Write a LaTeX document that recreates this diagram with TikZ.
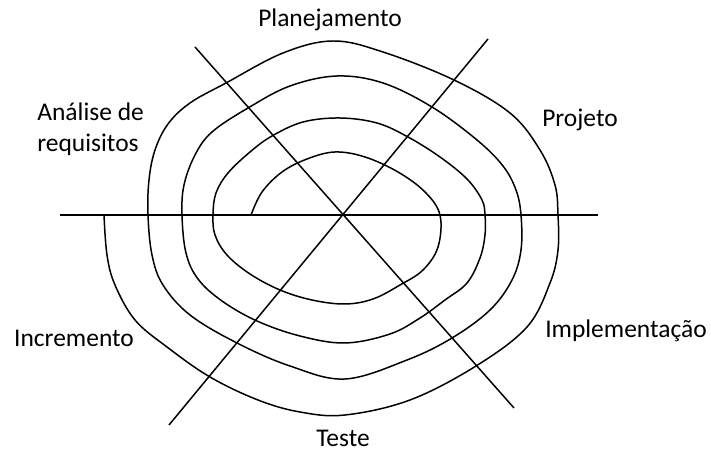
\documentclass[tikz,border=0pt]{standalone}
\usepackage{fontspec}
\setmainfont{Carlito}
\usepackage{tikz}
\usetikzlibrary{positioning}
\definecolor{InkBlack}{HTML}{000000}

\begin{document}
\begin{tikzpicture}[
  x=0.02cm, y=-0.02cm,
  axis/.style={line width=0.85pt, color=InkBlack},
  spiral/.style={line width=0.85pt, color=InkBlack, line join=round},
  lbl/.style={font=\fontsize{14.5}{17.4}\selectfont, text=InkBlack, inner sep=0pt, anchor=base}
]
\useasboundingbox (0,0) rectangle (711,452);

\coordinate (west) at (60,215);
\coordinate (east) at (598,215);
\coordinate (nw)   at (195,47);
\coordinate (se)   at (514,408);
\coordinate (ne)   at (488,39);
\coordinate (sw)   at (169,425);

\draw[axis] (west) -- (east);
\draw[axis] (nw) -- (se);
\draw[axis] (ne) -- (sw);

\draw[spiral] plot[smooth, tension=0.6] coordinates {
  (251,215) (262,192) (282,172) (307,159) (335,152) (365,157) (398,172) (425,192)
  (440,215) (438,247) (423,270) (400,285) (373,299) (345,304) (312,300) (280,290)
  (250,274) (227,255) (215,235) (213,215) (216,193) (228,173) (250,152) (272,136)
  (303,122) (340,118) (377,123) (408,137) (440,157) (467,179) (482,200) (485,215)
  (485,235) (480,258) (467,283) (445,300) (420,318) (390,334) (345,343) (300,336)
  (257,321) (222,301) (198,279) (186,253) (182,215) (184,185) (195,155) (212,132)
  (248,108) (290,86) (337,76) (383,83) (432,107) (477,140) (503,166) (516,190)
  (521,215) (521,250) (512,280) (490,310) (452,338) (407,360) (345,379) (290,366)
  (237,343) (190,315) (163,285) (152,255) (148,215) (149,180) (155,150) (168,124)
  (190,103) (226,83) (283,53) (333,41) (383,52) (454,80) (510,113) (540,150)
  (555,185) (558,215) (558,250) (550,283) (527,327) (476,366) (410,400) (345,415)
  (300,412) (258,400) (210,377) (167,347) (135,320) (115,285) (107,255) (104,215)};

\node[lbl] (plan)  at (330,27)  {Planejamento};
\node[lbl] (proj)  at (580,127) {Projeto};
\node[lbl] (impl)  at (626,338) {Implementação};
\node[lbl] (teste) at (343,447) {Teste};
\node[lbl] (incr)  at (74,347)  {Incremento};
\node[lbl, align=left, anchor=west] (anal) at (37,129) {Análise de\\requisitos};

\end{tikzpicture}
\end{document}
